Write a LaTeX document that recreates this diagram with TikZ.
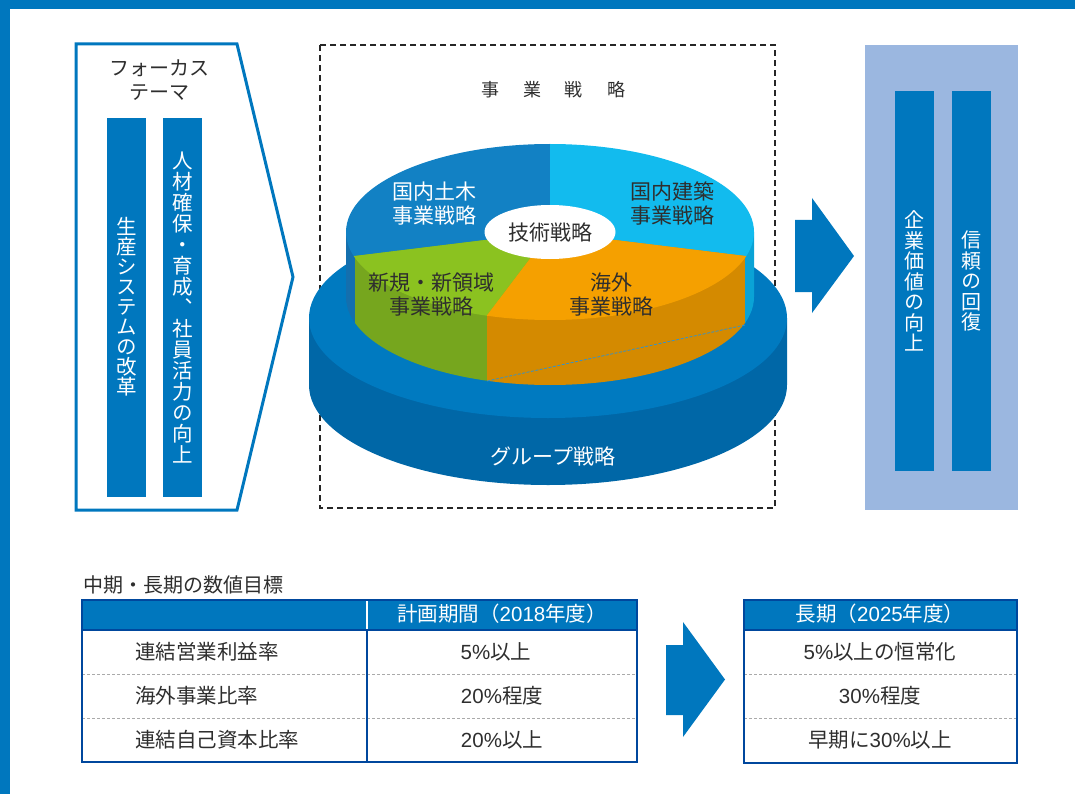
\documentclass[tikz,border=0pt]{standalone}
\usepackage{fontspec}
\setmainfont{Noto Sans CJK JP}
\newfontfamily\vjp[RawFeature=+vert]{Noto Sans CJK JP}
\newfontfamily\lat{Liberation Sans}
\usetikzlibrary{shapes.geometric}
\definecolor{mainblue}{HTML}{0077BE}
\definecolor{navy}{HTML}{00479D}
\definecolor{panel}{HTML}{9BB7E0}
\definecolor{txt}{HTML}{2E2E2E}
\definecolor{diskface}{HTML}{007AC0}
\definecolor{diskside}{HTML}{0067A7}
\definecolor{civF}{HTML}{1281C4}
\definecolor{civS}{HTML}{146FAE}
\definecolor{bldF}{HTML}{12BBEE}
\definecolor{bldS}{HTML}{0AA3D6}
\definecolor{newF}{HTML}{8BC220}
\definecolor{newS}{HTML}{76A61E}
\definecolor{ovsF}{HTML}{F5A000}
\definecolor{ovsS}{HTML}{D48A00}
\definecolor{sepgray}{HTML}{AAAAAA}
\begin{document}
\begin{tikzpicture}[x=1pt,y=-1pt,
  vtxt/.style={text=white,align=center,inner sep=0pt,font=\vjp\fontsize{20}{20.5}\selectfont},
  pielbl/.style={align=center,inner sep=0pt,font=\fontsize{21}{23.5}\selectfont},
  cell/.style={text=txt,inner sep=0pt,font=\fontsize{20.5}{22}\selectfont},
  hcell/.style={text=white,inner sep=0pt,font=\fontsize{20.5}{22}\selectfont},
  rowsep/.style={sepgray,line width=1pt,dash pattern=on 3pt off 2pt},
  bigarrow/.style={fill=mainblue}]
\useasboundingbox (0,0) rectangle (1075,794);
% frame bands
\fill[mainblue] (0,0) rectangle (1075,9);
\fill[mainblue] (0,0) rectangle (10,794);

% ---------- left focus panel ----------
\draw[mainblue,line width=3pt,line join=miter] (76,44) -- (237,44) -- (293,277) -- (237,510) -- (76,510) -- cycle;
\node[text=txt,align=center,inner sep=0pt,font=\fontsize{20}{24}\selectfont] (focus) at (159,80) {フォーカス\\テーマ};
\fill[mainblue] (107,118) rectangle (146,497);
\fill[mainblue] (163,118) rectangle (202,497);
\node[vtxt,font=\vjp\fontsize{20.5}{20}\selectfont] (seisan) at (126.5,307) {生\\産\\シ\\ス\\テ\\ム\\の\\改\\革};
\node[vtxt,font=\vjp\fontsize{20.5}{21}\selectfont] (jinzai) at (182.5,308) {人\\材\\確\\保\\・\\育\\成\\、\\社\\員\\活\\力\\の\\向\\上};

% ---------- dashed business strategy box ----------
\draw[black!85,line width=2pt,dash pattern=on 6pt off 4pt] (320,45) rectangle (775,508);
\node[text=txt,inner sep=0pt,font=\fontsize{18}{20}\selectfont] (jigyo) at (553,90) {事\hspace{24pt}業\hspace{24pt}戦\hspace{24pt}略};

% ---------- bottom disk (group strategy) ----------
\fill[diskside] (309,318) -- (309,385) arc[start angle=180,end angle=360,x radius=239pt,y radius=100pt] -- (787,318) -- cycle;
\fill[diskface] (548,318) ellipse [x radius=239pt,y radius=100pt];
\node[pielbl,text=white] (group) at (553,456) {グループ戦略};

% ---------- pie sides ----------
\def\pieside{(346,232) -- (346,297) arc[start angle=180,end angle=360,x radius=204pt,y radius=88pt] -- (754,232) -- cycle}
\begin{scope}\clip (340,200) rectangle (355.5,400); \fill[civS] \pieside; \end{scope}
\begin{scope}\clip (355,200) rectangle (487.5,400); \fill[newS] \pieside; \end{scope}
\begin{scope}\clip (487,200) rectangle (745.5,400); \fill[ovsS] \pieside; \end{scope}
\begin{scope}\clip (745,200) rectangle (760,400); \fill[bldS] \pieside; \end{scope}
\draw[mainblue!80!white,line width=0.8pt,dash pattern=on 3pt off 1.5pt] (487,381) -- (745,325);

% ---------- pie top face ----------
\begin{scope}
\clip (550,232) ellipse [x radius=204pt,y radius=88pt];
\fill[civF] (550,232) -- (550,130) -- (330,130) -- (330,259) -- cycle;
\fill[bldF] (550,232) -- (550,130) -- (770,130) -- (770,259) -- cycle;
\fill[ovsF] (550,232) -- (770,259) -- (770,340) -- (468,340) -- cycle;
\fill[newF] (550,232) -- (468,340) -- (330,340) -- (330,259) -- cycle;
\end{scope}
\node[pielbl,text=white] (civil) at (434,203.5) {国内土木\\事業戦略};
\node[pielbl,text=txt] (build) at (672,203.5) {国内建築\\事業戦略};
\node[pielbl,text=txt] (newbiz) at (431,294.5) {新規・新領域\\事業戦略};
\node[pielbl,text=txt] (overseas) at (611,294.5) {海外\\事業戦略};
\node[ellipse,fill=white,minimum width=131pt,minimum height=54pt,inner sep=0pt,text=txt,font=\fontsize{21}{22}\selectfont] (tech) at (550,232) {技術戦略};

% ---------- arrow to goals ----------
\fill[bigarrow] (795,220) -- (812,220) -- (812,198) -- (854,256) -- (812,313) -- (812,292) -- (795,292) -- cycle;

% ---------- right goal panel ----------
\fill[panel] (865,45) rectangle (1018,510);
\fill[mainblue] (895,91) rectangle (934,471);
\fill[mainblue] (952,91) rectangle (991,471);
\node[vtxt] (kigyo) at (914.5,281) {企\\業\\価\\値\\の\\向\\上};
\node[vtxt] (shinrai) at (971.5,281) {信\\頼\\の\\回\\復};

% ---------- bottom: numeric targets ----------
\node[anchor=west,text=txt,inner sep=0pt,font=\fontsize{20}{22}\selectfont] (title) at (83,585) {中期・長期の数値目標};

% table 1
\fill[mainblue] (82,600) rectangle (637,630);
\draw[rowsep] (82,674) -- (637,674);
\draw[rowsep] (82,718) -- (637,718);
\draw[white,line width=2pt] (367,600) -- (367,630);
\draw[navy,line width=2pt] (367,630) -- (367,762);
\draw[navy,line width=1.2pt] (82,630) -- (637,630);
\draw[navy,line width=2.5pt] (82,600) rectangle (637,762);
\node[hcell] (h1) at (502,614) {計画期間（{\lat 2018}年度）};
\node[cell,anchor=west] (r1) at (135,652) {連結営業利益率};
\node[cell,anchor=west] (r2) at (135,696) {海外事業比率};
\node[cell,anchor=west] (r3) at (135,740) {連結自己資本比率};
\node[cell] (v1) at (496,652) {{\lat 5\%}以上};
\node[cell] (v2) at (502,696) {{\lat 20\%}程度};
\node[cell] (v3) at (502,740) {{\lat 20\%}以上};

% arrow between tables
\fill[bigarrow] (666,645) -- (683,645) -- (683,622) -- (725,679.5) -- (683,737) -- (683,715) -- (666,715) -- cycle;

% table 2
\fill[mainblue] (744,600) rectangle (1017,630);
\draw[rowsep] (744,674) -- (1017,674);
\draw[rowsep] (744,718) -- (1017,718);
\draw[navy,line width=1.2pt] (744,630) -- (1017,630);
\draw[navy,line width=2.5pt] (744,600) rectangle (1017,763);
\node[hcell] (h2) at (880,614) {長期（{\lat 2025}年度）};
\node[cell] (w1) at (880,652) {{\lat 5\%}以上の恒常化};
\node[cell] (w2) at (880,696) {{\lat 30\%}程度};
\node[cell] (w3) at (880,740) {早期に{\lat 30\%}以上};
\end{tikzpicture}
\end{document}
